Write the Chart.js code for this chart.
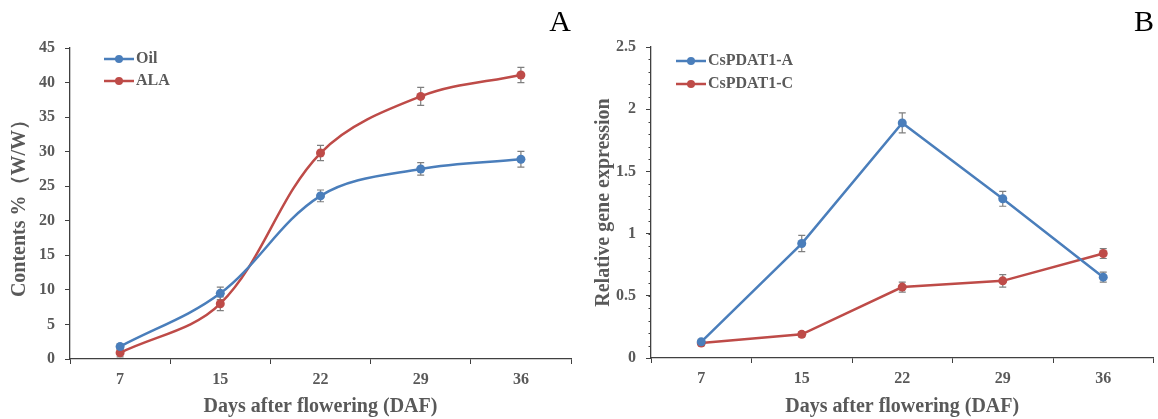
<!DOCTYPE html>
<html>
<head>
<meta charset="utf-8">
<script src="https://cdn.jsdelivr.net/npm/chart.js@4.4.1/dist/chart.umd.min.js"></script>
<style>
html, body { margin: 0; padding: 0; background: #fff; }
#wrap { position: relative; width: 1158px; height: 419px; }
.panel { position: absolute; top: 0; height: 419px; }
</style>
</head>
<body>
<div id="wrap">
  <div class="panel" style="left:0;width:579px"><canvas id="chartA" width="579" height="419"></canvas></div>
  <div class="panel" style="left:579px;width:579px"><canvas id="chartB" width="579" height="419"></canvas></div>
</div>
<script>
// categories
const DAYS = ["7", "15", "22", "29", "36"];

// panel A: contents % (W/W)
const OIL = [1.8, 9.5, 23.6, 27.5, 28.9];
const OIL_ERR = [0.4, 0.9, 0.85, 0.9, 1.15];
const ALA = [0.9, 8.0, 29.8, 38.0, 41.1];
const ALA_ERR = [0.6, 1.0, 1.1, 1.3, 1.1];

// panel B: relative gene expression
const PDAT_A = [0.13, 0.92, 1.89, 1.28, 0.65];
const PDAT_A_ERR = [0.02, 0.065, 0.08, 0.06, 0.04];
const PDAT_C = [0.12, 0.19, 0.57, 0.62, 0.84];
const PDAT_C_ERR = [0.02, 0.02, 0.04, 0.05, 0.04];

const FONT = '"Times New Roman", "Liberation Serif", serif';
const TEXT = "#595959";
const AXIS = "#404040";
const BLUE = "#4a7ebb";
const RED = "#be4b48";

// gray error bars, drawn under the markers
const errorBars = {
    id: "errorBars",
    beforeDatasetsDraw(chart) {
        const { ctx } = chart;
        const y = chart.scales.y;
        ctx.save();
        ctx.strokeStyle = "#7f7f7f";
        ctx.lineWidth = 1.2;
        chart.data.datasets.forEach((ds, i) => {
            const meta = chart.getDatasetMeta(i);
            ds.errors.forEach((e, j) => {
                const px = meta.data[j].x;
                const top = y.getPixelForValue(ds.data[j] + e);
                const bot = y.getPixelForValue(ds.data[j] - e);
                ctx.beginPath();
                ctx.moveTo(px, top); ctx.lineTo(px, bot);
                ctx.moveTo(px - 3.5, top); ctx.lineTo(px + 3.5, top);
                ctx.moveTo(px - 3.5, bot); ctx.lineTo(px + 3.5, bot);
                ctx.stroke();
            });
        });
        ctx.restore();
    },
};

// short minor tick marks on the y axis (panel B)
const minorTicks = {
    id: "minorTicks",
    afterDraw(chart, args, opts) {
        if (!opts.step) return;
        const y = chart.scales.y;
        const { ctx } = chart;
        ctx.save();
        ctx.strokeStyle = AXIS;
        ctx.lineWidth = 1;
        for (let v = y.min; v <= y.max + 1e-9; v += opts.step) {
            const py = Math.round(y.getPixelForValue(v)) + 0.5;
            ctx.beginPath();
            ctx.moveTo(y.right - 2.5, py); ctx.lineTo(y.right, py);
            ctx.stroke();
        }
        ctx.restore();
    },
};

// legend sitting inside the plot, line + marker + label
const insideLegend = {
    id: "insideLegend",
    afterDraw(chart, args, opts) {
        const { ctx, chartArea } = chart;
        ctx.save();
        chart.data.datasets.forEach((ds, i) => {
            const x = chartArea.left + opts.left;
            const y = chartArea.top + opts.top + i * opts.gap;
            ctx.strokeStyle = ds.borderColor;
            ctx.lineWidth = 2.5;
            ctx.beginPath(); ctx.moveTo(x, y); ctx.lineTo(x + 30, y); ctx.stroke();
            ctx.fillStyle = ds.borderColor;
            ctx.beginPath(); ctx.arc(x + 15, y, 4, 0, Math.PI * 2); ctx.fill();
            ctx.fillStyle = TEXT;
            ctx.font = "bold 16px " + FONT;
            ctx.textBaseline = "middle";
            ctx.fillText(ds.label, x + 32, y);
        });
        ctx.restore();
    },
};

function series(label, data, errors, color, tension) {
    return {
        label, data, errors,
        borderColor: color, backgroundColor: color,
        borderWidth: 2.5, tension,
        pointRadius: 4.5, pointHoverRadius: 4.5,
        pointBackgroundColor: color, pointBorderWidth: 0,
    };
}

function panel(canvas, o) {
    return new Chart(canvas, {
        type: "line",
        data: { labels: DAYS, datasets: o.datasets },
        plugins: [errorBars, minorTicks, insideLegend],
        options: {
            responsive: false, animation: false,
            layout: { padding: { left: 0, right: o.padRight, top: 0, bottom: 0 } },
            plugins: {
                legend: { display: false },
                tooltip: { enabled: false },
                title: {
                    display: true, text: o.letter, align: "end", color: "#000",
                    font: { family: FONT, size: 30, weight: "normal" },
                    padding: { top: 5, bottom: o.titleBottom },
                },
                insideLegend: o.legend,
                minorTicks: { step: o.minorStep },
            },
            scales: {
                x: {
                    offset: true,
                    afterFit: s => { s.height = o.xHeight; },
                    grid: { offset: true, drawOnChartArea: false, tickLength: 5, color: AXIS },
                    border: { color: AXIS, width: 1.3 },
                    ticks: { color: TEXT, padding: 6, font: { family: FONT, size: 16, weight: "bold" } },
                    title: {
                        display: true, text: "Days after flowering (DAF)", color: TEXT,
                        font: { family: FONT, size: 20, weight: "bold" },
                        padding: { top: 0, bottom: 0 },
                    },
                },
                y: {
                    min: 0, max: o.yMax,
                    afterFit: s => { s.width = o.yWidth; },
                    grid: { drawOnChartArea: false, tickLength: 5, color: AXIS },
                    border: { color: AXIS, width: 1.3 },
                    ticks: {
                        stepSize: o.yStep, padding: 10, color: TEXT,
                        font: { family: FONT, size: 16, weight: "bold" },
                        callback: v => String(Math.round(v * 10) / 10),
                    },
                    title: {
                        display: true, text: o.yTitle, color: TEXT,
                        font: { family: FONT, size: 20, weight: "bold" },
                        padding: { top: o.yTitlePad, bottom: 0 },
                    },
                },
            },
        },
    });
}

panel(document.getElementById("chartA"), {
    letter: "A",
    datasets: [
        series("Oil", OIL, OIL_ERR, BLUE, 0.35),
        series("ALA", ALA, ALA_ERR, RED, 0.35),
    ],
    yMax: 45, yStep: 5, minorStep: 0,
    yTitle: "Contents %（W/W）", yTitlePad: 8,
    yWidth: 70, xHeight: 60, padRight: 8, titleBottom: 7,
    legend: { left: 34, top: 11, gap: 22 },
});

panel(document.getElementById("chartB"), {
    letter: "B",
    datasets: [
        series("CsPDAT1-A", PDAT_A, PDAT_A_ERR, BLUE, 0),
        series("CsPDAT1-C", PDAT_C, PDAT_C_ERR, RED, 0),
    ],
    yMax: 2.5, yStep: 0.5, minorStep: 0.1,
    yTitle: "Relative gene expression", yTitlePad: 13,
    yWidth: 72, xHeight: 61, padRight: 4, titleBottom: 6,
    legend: { left: 25, top: 14, gap: 23 },
});
</script>
</body>
</html>
